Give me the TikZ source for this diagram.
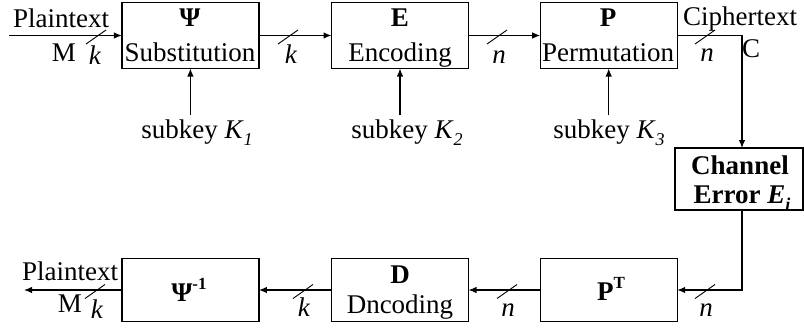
\documentclass[tikz,border=0pt]{standalone}
\usepackage{fontspec}
\setmainfont{Liberation Serif}
\usetikzlibrary{arrows.meta}
\newcommand{\lowsub}[1]{\raisebox{-0.28em}{\fontsize{18}{18}\selectfont #1}}
\newcommand{\highsup}[1]{\raisebox{0.42em}{\fontsize{17}{17}\selectfont #1}}
\tikzset{
  busmark/.pic={\draw[line width=0.9pt] (-10,8.5) -- (10,-5.5);}
}
\begin{document}
\begin{tikzpicture}[x=1pt,y=-1pt,
  every node/.style={font=\fontsize{27}{30}\selectfont, inner sep=0pt, outer sep=0pt},
  blk/.style={draw, line width=1.2pt, minimum width=137pt, minimum height=66pt},
  wire/.style={line width=1.2pt},
  arr/.style={wire, -{Latex[length=8pt,width=6.5pt]}},
  lbl/.style={anchor=base},
  keylbl/.style={anchor=base, inner ysep=4pt}]
\useasboundingbox (0,0) rectangle (804,330);

% blocks of the cipher path
\node[blk] (psi)  at (190.4,35.5) {};
\node[blk] (enc)  at (400,35.5) {};
\node[blk] (perm) at (608.7,35.5) {};
\node[blk, minimum width=128pt, minimum height=62pt] (chan) at (739,179) {};
\node[blk, minimum height=63pt] (pt)     at (608.7,290) {};
\node[blk, minimum height=63pt] (dec)    at (400,290) {};
\node[blk, minimum height=63pt] (psiinv) at (190.4,290) {};

% block captions
\node[lbl] (psiA) at (190,26) {\textbf{Ψ}};
\node[lbl] (psiB) at (190,61) {Substitution};
\node[lbl] (encA) at (400,26) {\textbf{E}};
\node[lbl] (encB) at (400,61) {Encoding};
\node[lbl] (permA) at (608,26) {\textbf{P}};
\node[lbl] (permB) at (608,61) {Permutation};
\node[lbl] (chanA) at (740,174) {\textbf{Channel}};
\node[lbl] (chanB) at (742,203) {\textbf{Error \textit{E}\lowsub{\textit{i}}}};
\node[lbl] (ptA) at (611,300) {\textbf{P\highsup{T}}};
\node[lbl] (decA) at (400,283) {\textbf{D}};
\node[lbl] (decB) at (400,313) {Dncoding};
\node[lbl] (psiinvA) at (189,301) {\textbf{Ψ\highsup{-1}}};

% subkeys
\node[keylbl] (k1) at (197,138) {subkey \textit{K}\lowsub{\textit{1}}};
\node[keylbl] (k2) at (407,138) {subkey \textit{K}\lowsub{\textit{2}}};
\node[keylbl] (k3) at (609,138) {subkey \textit{K}\lowsub{\textit{3}}};

% end points
\coordinate (in)  at (9,35.5);
\coordinate (out) at (24,290);

% connectors
\draw[arr] (in) -- (psi.west);
\draw[arr] (psi.east) -- (enc.west);
\draw[arr] (enc.east) -- (perm.west);
\draw[arr] (perm.east) -| ([xshift=3pt]chan.north);
\draw[arr] ([xshift=3pt]chan.south) |- (pt.east);
\draw[arr] (pt.west) -- (dec.east);
\draw[arr] (dec.west) -- (psiinv.east);
\draw[arr] (psiinv.west) -- (out);
\draw[arr] (psi.south |- k1.north) -- (psi.south);
\draw[arr] (enc.south |- k2.north) -- (enc.south);
\draw[arr] (perm.south |- k3.north) -- (perm.south);

% bus width marks
\pic at (96,35.5) {busmark};
\pic at (288,35.5) {busmark};
\pic at (497,35.5) {busmark};
\pic at (705,35.5) {busmark};
\pic at (95,290) {busmark};
\pic at (303,290) {busmark};
\pic at (507,290) {busmark};
\pic at (705,290) {busmark};

% wire labels
\node[lbl] (ptxtA) at (61,27) {Plaintext};
\node[lbl] (mA) at (64,61) {M};
\node[lbl] (w1) at (95,64) {\textit{k}};
\node[lbl] (w2) at (291,63) {\textit{k}};
\node[lbl] (w3) at (499,63) {\textit{n}};
\node[lbl] (w4) at (707,61) {\textit{n}};
\node[lbl] (ctxt) at (740,25) {Ciphertext};
\node[lbl] (cA) at (751,57) {C};
\node[lbl] (ptxtB) at (70,280) {Plaintext};
\node[lbl] (mB) at (70,312) {M};
\node[lbl] (w5) at (97,318) {\textit{k}};
\node[lbl] (w6) at (304,316) {\textit{k}};
\node[lbl] (w7) at (508,316) {\textit{n}};
\node[lbl] (w8) at (706,316) {\textit{n}};
\end{tikzpicture}
\end{document}
